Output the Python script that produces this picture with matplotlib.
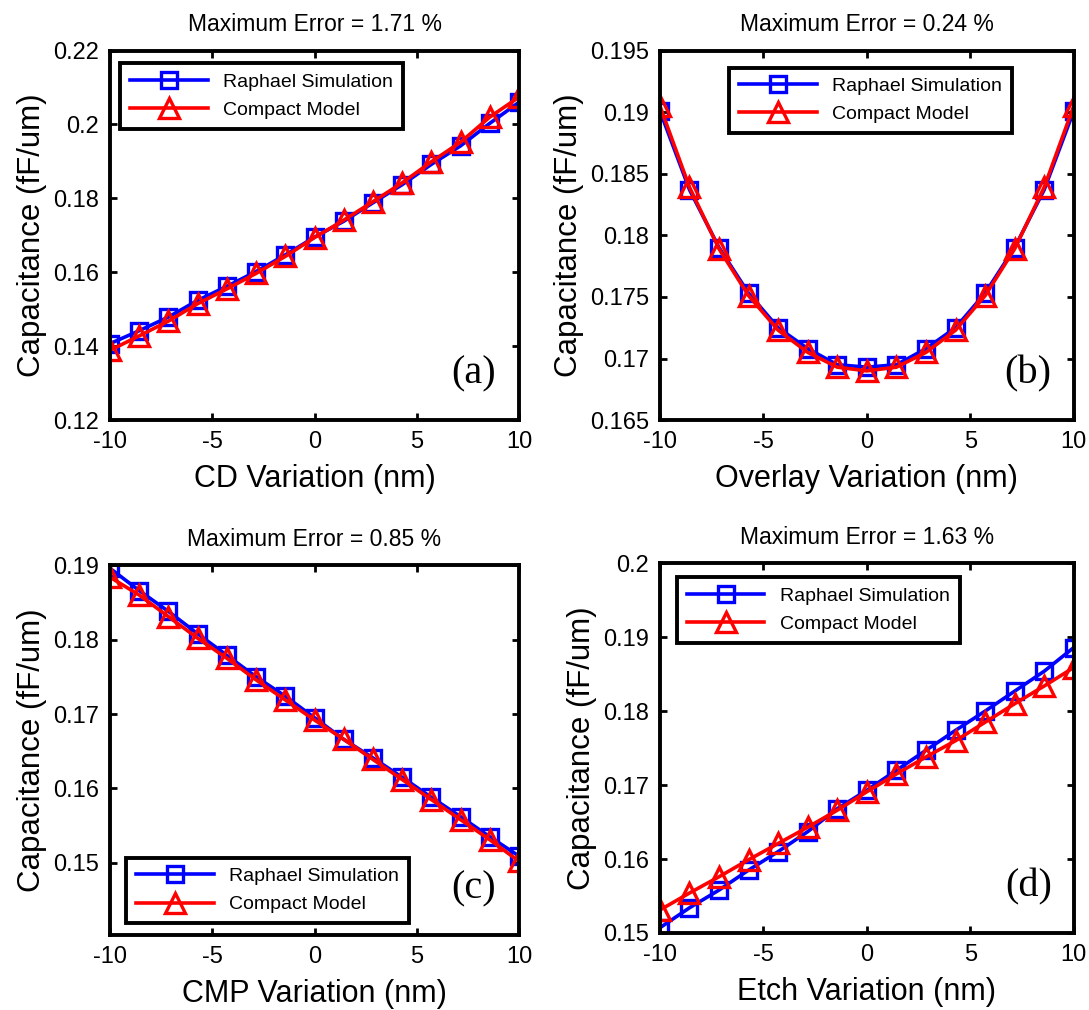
import matplotlib
matplotlib.use("Agg")
import matplotlib.pyplot as plt
import numpy as np
from matplotlib.ticker import FuncFormatter

plt.rcParams['font.family'] = ['Liberation Sans', 'DejaVu Sans']
plt.rcParams['axes.unicode_minus'] = False

# x positions: 15 points from -10 to 10 nm
x = np.linspace(-10, 10, 15)

# (a) CD variation
cd_raphael = [0.1407, 0.1442, 0.1479, 0.1524, 0.1562, 0.1602, 0.1647, 0.1695,
              0.1738, 0.1788, 0.1837, 0.1892, 0.1942, 0.2003, 0.2060]
cd_compact = [0.1389, 0.1428, 0.1468, 0.1515, 0.1555, 0.1597, 0.1643, 0.1694,
              0.1741, 0.1791, 0.1842, 0.1899, 0.1952, 0.2020, 0.2074]

# (b) Overlay variation
ov_raphael = [0.1901, 0.1837, 0.1790, 0.1753, 0.1725, 0.1708, 0.1695, 0.1693,
              0.1695, 0.1708, 0.1725, 0.1753, 0.1790, 0.1837, 0.1901]
ov_compact = [0.1905, 0.1839, 0.1789, 0.1751, 0.1723, 0.1705, 0.1693, 0.1690,
              0.1693, 0.1705, 0.1723, 0.1751, 0.1789, 0.1839, 0.1905]

# (c) CMP variation
cmp_raphael = [0.1896, 0.1866, 0.1838, 0.1808, 0.1779, 0.1750, 0.1724, 0.1695,
               0.1666, 0.1641, 0.1615, 0.1588, 0.1562, 0.1535, 0.1509]
cmp_compact = [0.1884, 0.1860, 0.1831, 0.1802, 0.1775, 0.1746, 0.1719, 0.1692,
               0.1666, 0.1639, 0.1612, 0.1585, 0.1558, 0.1531, 0.1502]

# (d) Etch variation
etch_raphael = [0.1507, 0.1534, 0.1558, 0.1585, 0.1610, 0.1637, 0.1668, 0.1693,
                0.1720, 0.1747, 0.1774, 0.1800, 0.1827, 0.1854, 0.1886]
etch_compact = [0.1531, 0.1554, 0.1576, 0.1599, 0.1621, 0.1643, 0.1666, 0.1691,
                0.1715, 0.1738, 0.1760, 0.1785, 0.1810, 0.1834, 0.1859]

titles = ["Maximum Error = 1.71 %", "Maximum Error = 0.24 %",
          "Maximum Error = 0.85 %", "Maximum Error = 1.63 %"]
xlabels = ["CD Variation (nm)", "Overlay Variation (nm)",
           "CMP Variation (nm)", "Etch Variation (nm)"]
panel_tags = ["(a)", "(b)", "(c)", "(d)"]

fig = plt.figure(figsize=(10.89, 10.10), dpi=100)

# axes rectangles in figure fraction
rects = [[0.101, 0.584, 0.3756, 0.366],
         [0.606, 0.584, 0.380, 0.366],
         [0.101, 0.0743, 0.3756, 0.366],
         [0.606, 0.0763, 0.380, 0.366]]

data = [(cd_raphael, cd_compact), (ov_raphael, ov_compact),
        (cmp_raphael, cmp_compact), (etch_raphael, etch_compact)]
ylims = [(0.12, 0.22), (0.165, 0.195), (0.1403, 0.19), (0.15, 0.2)]
yticks = [np.arange(0.12, 0.2201, 0.02), np.arange(0.165, 0.1951, 0.005),
          np.arange(0.15, 0.1901, 0.01), np.arange(0.15, 0.2001, 0.01)]
leg_loc = ["upper left", "upper right", "lower left", "upper left"]
leg_anchor = [(0.025, 0.965), (0.85, 0.954), (0.04, 0.032), (0.041, 0.962)]

fmt = FuncFormatter(lambda v, p: "%g" % round(v, 4))

for i in range(4):
    ax = fig.add_axes(rects[i])
    sim, mod = data[i]
    ax.plot(x, sim, color='blue', lw=2.6, marker='s', ms=11, mfc='none',
            mew=2.4, label='Raphael Simulation')
    ax.plot(x, mod, color='red', lw=2.6, marker='^', ms=15, mfc='none',
            mew=2.4, label='Compact Model')
    ax.set_xlim(-10, 10)
    ax.set_ylim(*ylims[i])
    ax.set_xticks([-10, -5, 0, 5, 10])
    ax.set_yticks(yticks[i])
    ax.yaxis.set_major_formatter(fmt)
    ax.tick_params(direction='in', top=True, right=True, length=5, width=2,
                   labelsize=17, pad=8)
    for s in ax.spines.values():
        s.set_linewidth(2.8)
    ax.set_title(titles[i], fontsize=16.5, pad=14)
    ax.set_xlabel(xlabels[i], fontsize=22, labelpad=8)
    ax.set_ylabel("Capacitance (fF/um)", fontsize=22.5, labelpad=4)
    leg = ax.legend(loc=leg_loc[i], bbox_to_anchor=leg_anchor[i], fontsize=14,
                    handlelength=4.0, fancybox=False, framealpha=1,
                    edgecolor='black', borderpad=0.5, labelspacing=0.55,
                    borderaxespad=0)
    leg.get_frame().set_linewidth(2.8)
    ax.text(0.89, 0.125, panel_tags[i], transform=ax.transAxes, ha='center',
            va='center', fontsize=29, family='Liberation Serif')

fig.savefig("out.png", dpi=100)
